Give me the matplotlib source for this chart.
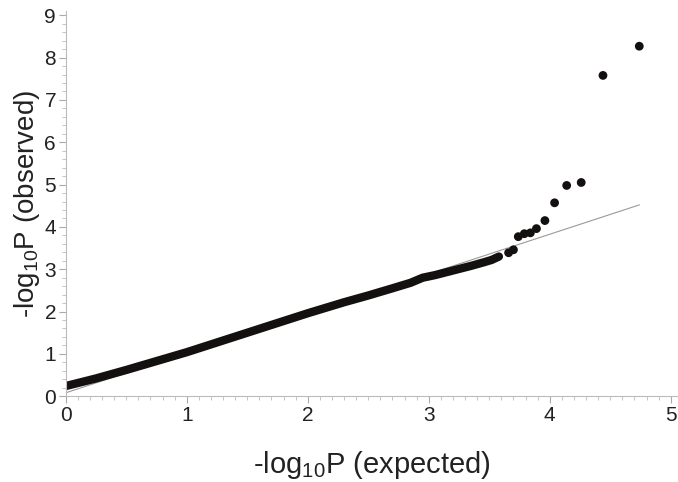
import matplotlib
matplotlib.use("Agg")
import matplotlib.pyplot as plt
from matplotlib.ticker import MultipleLocator

plt.rcParams['font.family'] = ['Liberation Sans', 'DejaVu Sans']
plt.rcParams['mathtext.fontset'] = 'custom'
plt.rcParams['mathtext.rm'] = 'Liberation Sans'

# dense body of the QQ plot (expected, observed)
band_x = [0.0, 0.25, 0.5, 1.0, 1.5, 2.0, 2.3, 2.5, 2.7, 2.85, 2.95, 3.05,
          3.2, 3.35, 3.45, 3.52, 3.58]
band_y = [0.24, 0.42, 0.62, 1.04, 1.50, 1.96, 2.22, 2.38, 2.55, 2.68, 2.80,
          2.86, 2.97, 3.08, 3.16, 3.22, 3.30]

# separate points in the upper tail
tail_x = [3.66, 3.70, 3.74, 3.79, 3.84, 3.89, 3.96, 4.04, 4.14, 4.26, 4.44, 4.74]
tail_y = [3.39, 3.46, 3.77, 3.84, 3.86, 3.96, 4.15, 4.57, 4.98, 5.05, 7.58, 8.27]

# reference line
ref_x = [0.0, 4.74]
ref_y = [0.08, 4.52]

x_ticks = [0, 1, 2, 3, 4, 5]
y_ticks = [0, 1, 2, 3, 4, 5, 6, 7, 8, 9]

fig = plt.figure(figsize=(6.78, 4.82), dpi=100)
ax = fig.add_axes([0.097, 0.178, 0.903, 0.799])

ax.plot(ref_x, ref_y, color='#999999', lw=0.8, zorder=1)
ax.plot(band_x, band_y, color='#141010', lw=6, solid_capstyle='round', zorder=2)
ax.scatter(tail_x, tail_y, s=40, color='#141010', edgecolors='none', zorder=3)

ax.set_xlim(0, 5.06)
ax.set_ylim(0, 9.1)
ax.set_xticks(x_ticks)
ax.set_yticks(y_ticks)
ax.xaxis.set_minor_locator(MultipleLocator(0.1))
ax.yaxis.set_minor_locator(MultipleLocator(0.2))

for s in ['top', 'right']:
    ax.spines[s].set_visible(False)
for s in ['left', 'bottom']:
    ax.spines[s].set_color('#bbbbbb')
    ax.spines[s].set_linewidth(0.8)

ax.tick_params(which='major', length=5, color='#aaaaaa', labelsize=15,
               labelcolor='#222222', pad=2)
ax.tick_params(which='minor', length=3, color='#bbbbbb')

ax.set_xlabel(r'-log$_\mathregular{10}$P (expected)', fontsize=21, color='#222222',
              labelpad=17)
ax.set_ylabel(r'-log$_\mathregular{10}$P (observed)', fontsize=20, color='#222222',
              labelpad=2)

fig.savefig('out.png', dpi=100)
